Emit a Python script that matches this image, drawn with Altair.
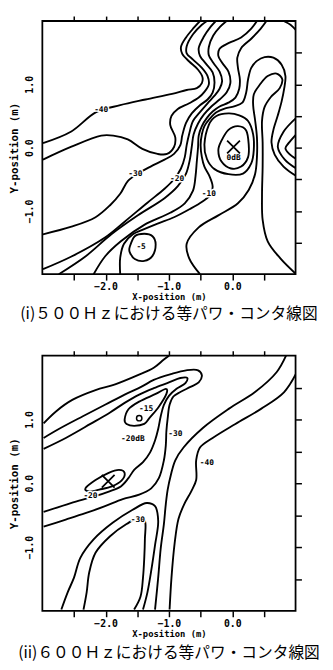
import altair as alt
import pandas as pd

# ---------------- (i) 500 Hz : contour traces (metres) ----------------
t1_x = [-2.99,-2.55,-2.15,-1.77,-1.37,-0.95,-0.72,-0.56,-0.48,-0.47,-0.54,-0.68,-0.79,-0.81,-0.73,-0.61,-0.51]
t1_y = [0.07,0.25,0.56,0.67,0.76,0.85,0.91,0.94,1.02,1.11,1.23,1.36,1.48,1.59,1.74,1.89,2.0]
t2_x = [-2.99,-2.55,-2.07,-1.88,-1.65,-1.42,-1.18,-1.03,-0.92,-0.90,-0.98,-0.96,-0.86,-0.68,-0.53,-0.44,-0.37,-0.39,-0.48,-0.62,-0.72,-0.72,-0.62,-0.48,-0.40]
t2_y = [-0.19,0.01,0.19,0.19,0.13,-0.02,-0.10,-0.10,0.01,0.16,0.36,0.50,0.61,0.70,0.79,0.88,1.00,1.13,1.26,1.39,1.49,1.60,1.79,1.94,2.0]
t3_x = [-2.99,-2.54,-2.16,-1.93,-1.77,-1.65,-1.49,-1.29,-1.07,-0.92,-0.82,-0.79,-0.73,-0.64,-0.51,-0.39,-0.31,-0.28,-0.31,-0.42,-0.51,-0.53,-0.45,-0.34,-0.26]
t3_y = [-1.37,-1.25,-1.10,-0.91,-0.73,-0.53,-0.41,-0.30,-0.19,-0.10,0.04,0.19,0.39,0.54,0.67,0.76,0.87,1.03,1.19,1.33,1.45,1.57,1.75,1.91,2.0]
t4_x = [-2.99,-2.54,-2.01,-1.70,-1.34,-1.07,-0.92,-0.81,-0.75,-0.72,-0.68,-0.62,-0.51,-0.39,-0.28,-0.20,-0.16,-0.20,-0.30,-0.37,-0.37,-0.30,-0.19,-0.09]
t4_y = [-1.92,-1.72,-1.42,-1.17,-0.87,-0.65,-0.50,-0.33,-0.15,0.04,0.22,0.42,0.56,0.70,0.82,0.93,1.05,1.20,1.34,1.46,1.59,1.77,1.91,2.0]
t5_x = [-2.74,-2.32,-1.91,-1.49,-1.07,-0.86,-0.73,-0.67,-0.64,-0.61,-0.54,-0.45,-0.33,-0.20,-0.09,-0.03,-0.06,-0.16,-0.22,-0.20,-0.06,0.14,0.30,0.39]
t5_y = [-2.0,-1.72,-1.37,-1.07,-0.80,-0.61,-0.41,-0.19,0.01,0.21,0.38,0.52,0.65,0.76,0.87,1.02,1.20,1.34,1.45,1.56,1.65,1.74,1.88,2.0]
t6_x = [-2.19,-2.01,-1.76,-1.39,-0.98,-0.75,-0.62,-0.58,-0.56,-0.54,-0.53,-0.48,-0.40,-0.31,-0.20,-0.06,0.05,0.11,0.12,0.09,0.08,0.14,0.30,0.45,0.54]
t6_y = [-2.0,-1.72,-1.48,-1.22,-1.03,-0.88,-0.68,-0.45,-0.22,0.01,0.19,0.34,0.47,0.57,0.65,0.71,0.79,0.93,1.08,1.26,1.42,1.57,1.72,1.88,2.0]
t7_x = [-1.77,-1.77,-1.71,-1.57,-1.42,-1.18,-0.92,-0.67,-0.47,-0.34,-0.31,-0.36,-0.44,-0.48,-0.50,-0.48,-0.44,-0.36,-0.25,-0.11,0.03,0.16,0.22,0.25,0.30,0.39,0.51,0.65,0.78,0.84,0.82,0.78,0.72,0.65,0.62,0.67,0.81,1.01]
t7_y = [-2.0,-1.74,-1.52,-1.37,-1.30,-1.20,-1.10,-0.97,-0.85,-0.74,-0.61,-0.45,-0.30,-0.15,0.04,0.21,0.34,0.45,0.56,0.62,0.65,0.71,0.87,1.08,1.26,1.37,1.43,1.42,1.31,1.13,0.93,0.73,0.51,0.28,0.08,-0.11,-0.30,-0.45]
t8_x = [-0.51,-0.68,-0.72,-0.53,-0.22,0.09,0.26,0.36,0.39,0.39,0.36,0.33,0.34,0.44,0.56,0.70,0.79,0.75,0.61,0.51,0.47,0.48,0.48,0.47,0.48,0.56,0.76,1.01]
t8_y = [-2.0,-1.75,-1.52,-1.26,-1.07,-0.88,-0.67,-0.42,-0.15,0.16,0.44,0.67,0.84,1.00,1.13,1.17,1.08,0.94,0.80,0.64,0.42,0.08,-0.30,-0.76,-1.14,-1.48,-1.75,-2.0]
t9_x = [1.01,0.81,0.72,0.83,1.01]
t9_y = [0.47,0.25,0.01,-0.19,-0.33]
t10_x = [1.01,0.89,0.84,0.90,1.01]
t10_y = [0.21,0.07,-0.01,-0.10,-0.18]
t11_x = [0.81,0.92,1.01]
t11_y = [2.0,1.94,1.85]
# closed loops
tl1_x = [-0.37,-0.25,-0.06,0.11,0.25,0.33,0.34,0.30,0.17,-0.06,-0.28,-0.40,-0.44]
tl1_y = [0.36,0.50,0.54,0.51,0.42,0.21,-0.04,-0.25,-0.41,-0.42,-0.34,-0.18,0.05]
tl2_x = [-0.17,-0.06,0.09,0.22,0.26,0.25,0.14,-0.02,-0.17,-0.22]
tl2_y = [0.11,0.28,0.34,0.27,0.05,-0.15,-0.30,-0.33,-0.22,-0.04]
tl3_x = [-1.62,-1.54,-1.39,-1.26,-1.21,-1.26,-1.39,-1.54,-1.62]
tl3_y = [-1.57,-1.40,-1.36,-1.40,-1.53,-1.71,-1.79,-1.76,-1.65]
top_lab_t = ["-40", "-30", "-20", "-10", "-5", "0dB"]
top_lab_x = [-2.07, -1.53, -0.87, -0.37, -1.44, 0.02]
top_lab_y = [0.59, -0.42, -0.49, -0.73, -1.57, -0.17]
top_src_x = [0.02]
top_src_y = [0.01]

# ---------------- (ii) 600 Hz ----------------
b1_x = [-2.98,-2.78,-2.52,-2.16,-1.85,-1.50,-1.24,-1.08,-1.00]
b1_y = [0.94,1.13,1.31,1.46,1.55,1.69,1.81,1.94,2.0]
b2_x = [-2.98,-2.74,-2.36,-2.01,-1.70,-1.44,-1.24,-0.97,-0.73,-0.54,-0.48,-0.53,-0.66,-0.82,-0.93,-0.99,-1.02,-1.04,-1.05,-1.08,-1.16,-1.28,-1.47,-1.73,-2.01,-2.32,-2.63,-2.98]
b2_y = [0.71,0.85,1.05,1.23,1.39,1.51,1.62,1.71,1.77,1.77,1.69,1.58,1.51,1.43,1.36,1.23,1.02,0.82,0.59,0.36,0.08,-0.08,-0.18,-0.25,-0.36,-0.47,-0.57,-0.68]
b3_x = [-2.98,-2.63,-2.24,-1.93,-1.70,-1.47,-1.24,-1.00,-0.82,-0.71,-0.74,-0.88,-1.00,-1.08,-1.13,-1.17,-1.22,-1.30,-1.41,-1.55,-1.64,-1.76,-1.95,-2.19,-2.55,-2.98]
b3_y = [0.54,0.71,0.93,1.11,1.26,1.39,1.49,1.58,1.65,1.65,1.57,1.48,1.37,1.23,1.05,0.85,0.67,0.48,0.33,0.21,0.08,-0.05,-0.13,-0.21,-0.31,-0.45]
b4_x = [-2.70,-2.60,-2.50,-2.40,-2.19,-1.89,-1.58,-1.35,-1.22,-1.17,-1.22,-1.28,-1.34,-1.41]
b4_y = [-1.98,-1.71,-1.48,-1.17,-0.88,-0.62,-0.42,-0.31,-0.36,-0.59,-0.97,-1.37,-1.71,-1.98]
b5_x = [-2.35,-2.30,-2.26,-2.16,-1.93,-1.67,-1.45,-1.38,-1.38,-1.39,-1.41,-1.45,-1.55]
b5_y = [-1.98,-1.71,-1.40,-1.09,-0.83,-0.64,-0.53,-0.59,-0.87,-1.17,-1.48,-1.78,-1.98]
b6_x = [0.85,0.70,0.36,-0.05,-0.46,-0.77,-0.90,-0.97,-1.02,-1.05,-1.08,-1.13,-1.17,-1.22]
b6_y = [2.0,1.74,1.43,1.17,0.87,0.56,0.36,0.13,-0.10,-0.33,-0.64,-1.02,-1.48,-1.98]
b7_x = [1.02,0.82,0.46,0.05,-0.31,-0.51,-0.57,-0.57,-0.65,-0.76,-0.85,-0.91,-0.96,-0.99]
b7_y = [1.74,1.43,1.17,0.93,0.71,0.56,0.36,0.05,-0.13,-0.33,-0.56,-0.94,-1.48,-1.98]
# closed loops
bl1_x = [-1.70,-1.64,-1.47,-1.21,-1.05,-1.04,-1.16,-1.31,-1.39,-1.55,-1.67]
bl1_y = [1.00,1.16,1.28,1.40,1.48,1.40,1.20,1.02,0.93,0.90,0.93]
bl2_x = [-2.32,-2.16,-1.96,-1.79,-1.70,-1.75,-1.90,-2.10,-2.26]
bl2_y = [-0.08,0.05,0.16,0.21,0.16,0.04,-0.05,-0.10,-0.13]
bot_lab_t = ["-15", "-20dB", "-30", "-40", "-20", "-30"]
bot_lab_x = [-1.36, -1.57, -0.90, -0.40, -2.24, -1.49]
bot_lab_y = [1.16, 0.70, 0.77, 0.31, -0.20, -0.58]
bot_src_x = [-1.96]
bot_src_y = [0.03]
bot_ring_x = [-1.47]
bot_ring_y = [1.02]

FONT = "DejaVu Sans Mono"
XT = [-2.5, -2.0, -1.5, -1.0, -0.5, 0.0, 0.5]
YT = [-1.5, -1.0, -0.5, 0.0, 0.5, 1.0, 1.5]


def to_df(lines):
    rows = []
    for name, xs_, ys_ in lines:
        assert len(xs_) == len(ys_), name
        for i, (x, y) in enumerate(zip(xs_, ys_)):
            rows.append({"line": name, "i": i, "x": x, "y": y})
    return pd.DataFrame(rows)


def xs():
    return alt.Scale(domain=[-3, 1], nice=False, zero=False)


def ys():
    return alt.Scale(domain=[-2, 2], nice=False, zero=False)


def panel(open_lines, loops, lab, src, ring, caption, h, cap_off):
    odf = to_df(open_lines)
    cdf = to_df(loops)
    x_bottom = alt.Axis(orient="bottom", values=XT,
                        labelExpr="datum.value % 1 === 0 ? format(datum.value, '.1f') : ''",
                        title="X-position (m)", grid=False, domain=False,
                        tickSize=6, tickWidth=1.5, tickColor="black",
                        labelFont=FONT, labelFontSize=10, labelFontWeight="bold",
                        labelColor="black", labelPadding=2,
                        titleFont=FONT, titleFontSize=9, titleFontWeight="bold",
                        titleColor="black", titlePadding=1)
    y_left = alt.Axis(orient="left", values=[-1.0, 0.0, 1.0], format=".1f",
                      grid=False, domain=False, ticks=False,
                      labelAngle=270, labelAlign="center", labelBaseline="bottom",
                      labelPadding=8, labelFont=FONT, labelFontSize=10,
                      labelFontWeight="bold", labelColor="black",
                      title="Y-position (m)", titleFont=FONT, titleFontSize=11,
                      titleFontWeight="bold", titleColor="black", titlePadding=5)
    x_top = alt.Axis(orient="top", values=XT, labels=False, title="", grid=False,
                     domain=False, tickSize=5, tickWidth=1.5, tickColor="black")
    y_right = alt.Axis(orient="right", values=YT, labels=False, title="", grid=False,
                       domain=False, tickSize=6, tickWidth=1.5, tickColor="black")

    opened = alt.Chart(odf).mark_line(color="black", strokeWidth=1.9,
                                      interpolate="catmull-rom", clip=True).encode(
        x=alt.X("x:Q", scale=xs(), axis=x_bottom),
        y=alt.Y("y:Q", scale=ys(), axis=y_left),
        detail="line:N", order="i:Q")
    frame = alt.Chart(odf).mark_point(opacity=0).encode(
        x=alt.X("x:Q", scale=xs(), axis=x_top),
        y=alt.Y("y:Q", scale=ys(), axis=y_right))
    closed = alt.Chart(cdf).mark_line(color="black", strokeWidth=1.9,
                                      interpolate="cardinal-closed", clip=True).encode(
        x=alt.X("x:Q", scale=xs(), axis=None),
        y=alt.Y("y:Q", scale=ys(), axis=None),
        detail="line:N", order="i:Q")
    ldf = pd.DataFrame({"t": lab[0], "x": lab[1], "y": lab[2]})
    halo = alt.Chart(ldf).mark_text(font=FONT, fontSize=8, fontWeight="bold",
                                    fill="white", stroke="white", strokeWidth=3).encode(
        x=alt.X("x:Q", scale=xs(), axis=None), y=alt.Y("y:Q", scale=ys(), axis=None),
        text="t:N")
    txt = alt.Chart(ldf).mark_text(font=FONT, fontSize=8, fontWeight="bold",
                                   color="black").encode(
        x=alt.X("x:Q", scale=xs(), axis=None), y=alt.Y("y:Q", scale=ys(), axis=None),
        text="t:N")
    sdf = pd.DataFrame({"x": src[0], "y": src[1]})
    cross = alt.Chart(sdf).mark_point(shape="M-1,-1L1,1M-1,1L1,-1", size=170, opacity=1,
                                      filled=False, strokeWidth=1.8, color="black").encode(
        x=alt.X("x:Q", scale=xs(), axis=None), y=alt.Y("y:Q", scale=ys(), axis=None))
    layers = [opened, frame, closed, halo, txt, cross]
    if ring is not None:
        rdf = pd.DataFrame({"x": ring[0], "y": ring[1]})
        layers.append(alt.Chart(rdf).mark_point(shape="circle", size=30, filled=False, opacity=1,
                                                strokeWidth=1.5, color="black").encode(
            x=alt.X("x:Q", scale=xs(), axis=None), y=alt.Y("y:Q", scale=ys(), axis=None)))
    return alt.layer(*layers).resolve_axis(x="independent", y="independent").properties(
        width=258, height=h,
        title=alt.TitleParams(text=caption, orient="bottom", anchor="middle",
                              font="Noto Sans CJK JP", fontSize=16, fontWeight="normal",
                              color="black", offset=cap_off))


top_open = [("t1", t1_x, t1_y), ("t2", t2_x, t2_y), ("t3", t3_x, t3_y), ("t4", t4_x, t4_y),
            ("t5", t5_x, t5_y), ("t6", t6_x, t6_y), ("t7", t7_x, t7_y), ("t8", t8_x, t8_y),
            ("t9", t9_x, t9_y), ("t10", t10_x, t10_y), ("t11", t11_x, t11_y)]
top_loops = [("l1", tl1_x, tl1_y), ("l2", tl2_x, tl2_y), ("l3", tl3_x, tl3_y)]
bot_open = [("b1", b1_x, b1_y), ("b2", b2_x, b2_y), ("b3", b3_x, b3_y), ("b4", b4_x, b4_y),
            ("b5", b5_x, b5_y), ("b6", b6_x, b6_y), ("b7", b7_x, b7_y)]
bot_loops = [("m1", bl1_x, bl1_y), ("m2", bl2_x, bl2_y)]

top = panel(top_open, top_loops, (top_lab_t, top_lab_x, top_lab_y), (top_src_x, top_src_y),
            None, "(i)５００Ｈｚにおける等パワ・コンタ線図", 258, 5)
bottom = panel(bot_open, bot_loops, (bot_lab_t, bot_lab_x, bot_lab_y), (bot_src_x, bot_src_y),
               (bot_ring_x, bot_ring_y), "(ii)６００Ｈｚにおける等パワ・コンタ線図", 260, 7)

chart = alt.vconcat(top, bottom, spacing=26).configure_view(
    stroke="black", strokeWidth=1.8).properties(
    padding={"left": 0, "top": 0, "right": 4, "bottom": 0})

chart.save("out.html", embed_options={"renderer": "svg", "actions": False})
